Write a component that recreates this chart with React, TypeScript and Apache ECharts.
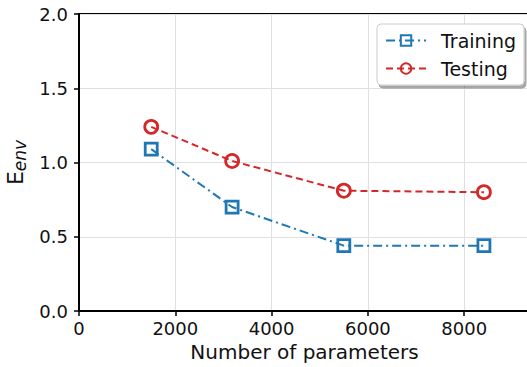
import React, { useEffect, useRef } from "react";
import * as echarts from "echarts";

const paramCounts = [1500, 3180, 5500, 8410];
const trainingErr = [1.09, 0.70, 0.44, 0.44];
const testingErr = [1.24, 1.01, 0.81, 0.80];
const seriesNames = ["Training", "Testing"];
const xTitle = "Number of parameters";

export default function App() {
  const ref = useRef<HTMLDivElement>(null);
  useEffect(() => {
    const chart = echarts.init(ref.current!, null, { renderer: "svg" });
    const font = "DejaVu Sans";
    chart.setOption({
      animation: false,
      backgroundColor: "#ffffff",
      grid: {
        left: 79,
        top: 14,
        right: -3,
        bottom: 56,
        show: true,
        borderColor: "#000",
        borderWidth: 2,
        containLabel: false,
        outerBoundsMode: "none",
      },
      legend: {
        right: 3,
        top: 24,
        orient: "vertical",
        itemGap: 9,
        itemWidth: 40,
        itemHeight: 13,
        padding: [7, 8, 7, 8],
        backgroundColor: "#fff",
        borderColor: "#cccccc",
        borderWidth: 1,
        borderRadius: 4,
        shadowColor: "rgba(0,0,0,0.35)",
        shadowOffsetX: 2,
        shadowOffsetY: 3,
        shadowBlur: 1,
        textStyle: { fontFamily: font, fontSize: 19, color: "#111", padding: [0, 0, 0, 10] },
        data: seriesNames,
      },
      xAxis: {
        type: "value",
        min: 0,
        max: 9367,
        interval: 2000,
        name: xTitle,
        nameLocation: "middle",
        nameGap: 31,
        nameTextStyle: { fontFamily: font, fontSize: 20, color: "#111" },
        axisLine: { show: true, onZero: false, lineStyle: { color: "#000", width: 2 } },
        axisTick: { show: true, length: 5, lineStyle: { color: "#000", width: 1.5 } },
        axisLabel: {
          fontFamily: font,
          fontSize: 18,
          color: "#111",
          margin: 8,
          showMaxLabel: false,
          formatter: (v: number) => String(v),
        },
        splitLine: { show: true, lineStyle: { color: "#e0e0e0", width: 1 } },
      },
      yAxis: {
        type: "value",
        min: 0,
        max: 2,
        interval: 0.5,
        name: "{a|E}{b|env}",
        nameLocation: "middle",
        nameGap: 49,
        nameTextStyle: {
          rich: {
            a: { fontFamily: font, fontSize: 22, color: "#111" },
            b: { fontFamily: font, fontSize: 17, fontStyle: "italic", color: "#111", verticalAlign: "bottom", padding: [9, 0, 0, 0] },
          },
        },
        axisLine: { show: true, lineStyle: { color: "#000", width: 2 } },
        axisTick: { show: true, length: 5, lineStyle: { color: "#000", width: 1.5 } },
        axisLabel: {
          fontFamily: font,
          fontSize: 18,
          color: "#111",
          margin: 11,
          formatter: (v: number) => v.toFixed(1),
        },
        splitLine: { show: true, lineStyle: { color: "#e0e0e0", width: 1 } },
      },
      series: [
        {
          name: seriesNames[0],
          type: "line",
          data: paramCounts.map((x, i) => [x, trainingErr[i]]),
          symbol: "rect",
          symbolSize: 12,
          color: "#1f77b4",
          itemStyle: { color: "rgba(255,255,255,0)", borderColor: "#1f77b4", borderWidth: 2.8 },
          lineStyle: { color: "#1f77b4", width: 2, type: [9, 4, 2, 4] },
          z: 3,
        },
        {
          name: seriesNames[1],
          type: "line",
          data: paramCounts.map((x, i) => [x, testingErr[i]]),
          symbol: "circle",
          symbolSize: 13,
          color: "#d62728",
          itemStyle: { color: "rgba(255,255,255,0)", borderColor: "#d62728", borderWidth: 2.8 },
          lineStyle: { color: "#d62728", width: 2, type: [7, 4] },
          z: 3,
        },
      ],
    });
    return () => chart.dispose();
  }, []);
  return <div ref={ref} style={{ width: 527, height: 367, position: "absolute", left: 0, top: 0 }} />;
}
